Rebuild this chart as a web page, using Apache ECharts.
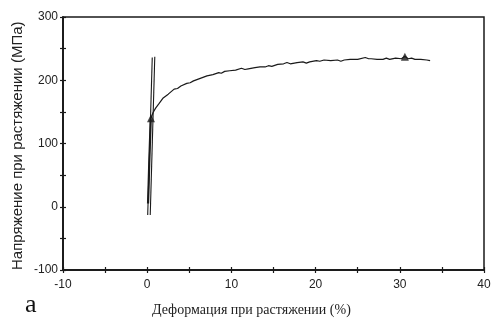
<!DOCTYPE html>
<html>
<head>
<meta charset="utf-8">
<script src="https://cdn.jsdelivr.net/npm/echarts@6/dist/echarts.min.js"></script>
<style>
  html, body { margin: 0; padding: 0; background: #fff; }
  #chart { width: 496px; height: 327px; }
</style>
</head>
<body>
<div id="chart"></div>
<script>
// axis ranges and labels
const xRange = [-10, 40];
const yRange = [-100, 300];
const xLabelStep = 10;
const yLabelStep = 100;
const xTitle = 'Деформация при растяжении (%)';
const yTitle = 'Напряжение при растяжении (МПа)';
const panelLabel = 'a';

// elastic loading trace (double line) and its dark overlap
const elasticLeft = [[0.06, -13], [0.6, 236]];
const elasticRight = [[0.36, -13], [0.9, 237]];
const elasticDark = [[0.1, 5], [0.17, 35], [0.24, 68], [0.32, 100], [0.42, 138]];

// plastic part of the curve
const plasticCurve = [
  [0.45, 140], [0.7, 149], [1.0, 156], [1.4, 163], [1.9, 172], [2.5, 178],
  [3.2, 186], [3.6, 187], [4.0, 191], [4.7, 195], [5.1, 196], [5.5, 199],
  [6.3, 203], [6.7, 205], [7.1, 207], [7.8, 209], [8.5, 212], [8.8, 211],
  [9.2, 214], [9.8, 215], [10.5, 216], [11.2, 219], [11.6, 217], [12.0, 218],
  [12.8, 220], [13.4, 221], [14.0, 221], [14.4, 223], [14.8, 222], [15.5, 225],
  [16.2, 226], [16.6, 228], [17.0, 226], [17.8, 228], [18.5, 229], [18.9, 227],
  [19.3, 229], [20.1, 231], [20.5, 230], [21.0, 232], [21.8, 231], [22.6, 232],
  [23.0, 230], [23.4, 232], [24.1, 233], [25.0, 233], [25.9, 236], [26.3, 234],
  [26.6, 234], [27.3, 233], [28.0, 233], [28.4, 235], [28.8, 233], [29.5, 235],
  [30.2, 234], [30.6, 238], [31.0, 234], [31.4, 235], [31.8, 233], [32.5, 233],
  [33.2, 232], [33.6, 231]
];

// triangle markers
const markers = [[0.45, 140], [30.6, 237]];

const ink = '#1a1a1a';
const chart = echarts.init(document.getElementById('chart'));

const baseX = {
  type: 'value', min: xRange[0], max: xRange[1], interval: 5,
  axisLine: { onZero: false, lineStyle: { color: ink, width: 1.5 } },
  splitLine: { show: false }
};
const baseY = {
  type: 'value', min: yRange[0], max: yRange[1], interval: 50,
  axisLine: { onZero: false, lineStyle: { color: ink, width: 1.5 } },
  splitLine: { show: false }
};

chart.setOption({
  backgroundColor: '#fff',
  animation: false,
  grid: { left: 63, right: 12, top: 17, bottom: 57, show: true, borderColor: ink, borderWidth: 1.5 },
  xAxis: [
    { ...baseX,
      axisTick: { inside: false, length: 3, lineStyle: { color: ink, width: 1.2 } },
      axisLabel: { margin: 9, color: '#222', fontFamily: 'Liberation Sans', fontSize: 12,
        formatter: v => (v % xLabelStep === 0 ? String(v) : '') } },
    { ...baseX, position: 'bottom',
      axisTick: { inside: true, length: 3, lineStyle: { color: ink, width: 1.2 } },
      axisLabel: { show: false } }
  ],
  yAxis: [
    { ...baseY,
      axisTick: { inside: false, length: 3, lineStyle: { color: ink, width: 1.2 } },
      axisLabel: { margin: 5, color: '#222', fontFamily: 'Liberation Sans', fontSize: 12,
        formatter: v => (v % yLabelStep === 0 ? String(v) : '') } },
    { ...baseY, position: 'left',
      axisTick: { inside: true, length: 3, lineStyle: { color: ink, width: 1.2 } },
      axisLabel: { show: false } }
  ],
  series: [
    { type: 'line', data: elasticLeft, symbol: 'none', lineStyle: { color: ink, width: 1.1 } },
    { type: 'line', data: elasticRight, symbol: 'none', lineStyle: { color: ink, width: 1.1 } },
    { type: 'line', data: elasticDark, symbol: 'none', lineStyle: { color: ink, width: 2.2 } },
    { type: 'line', data: plasticCurve, symbol: 'none', lineStyle: { color: ink, width: 1.2 } },
    { type: 'scatter', data: markers, symbol: 'triangle', symbolSize: 8, itemStyle: { color: ink } }
  ],
  graphic: [
    { type: 'text', left: 152, top: 303,
      style: { text: xTitle, font: '14px "Liberation Serif"', fill: '#222' } },
    { type: 'text', x: 10, y: 270, rotation: Math.PI / 2,
      style: { text: yTitle, font: '15px "Liberation Sans"', fill: '#222' } },
    { type: 'text', left: 25, top: 292,
      style: { text: panelLabel, font: '26px "Liberation Serif"', fill: '#111' } }
  ]
});
</script>
</body>
</html>
